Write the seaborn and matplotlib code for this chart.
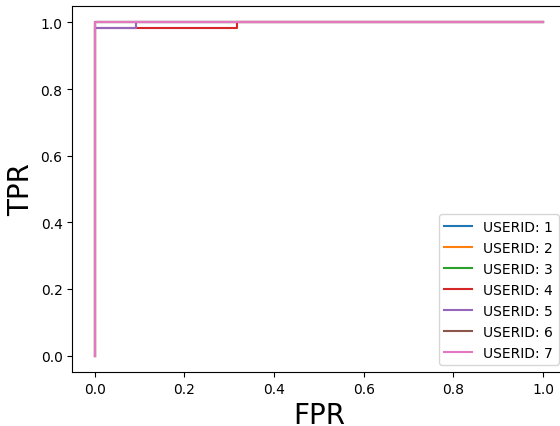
import matplotlib
matplotlib.use("Agg")
import matplotlib.pyplot as plt
import seaborn as sns
import pandas as pd

user_ids = [1, 2, 3, 4, 5, 6, 7]

# ROC points (fpr, tpr) per user
fpr_points = {
    1: [0.0, 0.0, 1.0],
    2: [0.0, 0.0, 1.0],
    3: [0.0, 0.0, 1.0],
    4: [0.0, 0.0, 0.318, 0.318, 1.0],
    5: [0.0, 0.0, 0.092, 0.092, 1.0],
    6: [0.0, 0.0, 1.0],
    7: [0.0, 0.0, 1.0],
}
tpr_points = {
    1: [0.0, 1.0, 1.0],
    2: [0.0, 1.0, 1.0],
    3: [0.0, 1.0, 1.0],
    4: [0.0, 0.982, 0.982, 1.0, 1.0],
    5: [0.0, 0.982, 0.982, 1.0, 1.0],
    6: [0.0, 1.0, 1.0],
    7: [0.0, 1.0, 1.0],
}

plt.style.use("default")
plt.rcParams["font.family"] = ["DejaVu Sans"]

fig, ax = plt.subplots(figsize=(5.6, 4.27), dpi=100)
palette = sns.color_palette("tab10")

for i, uid in enumerate(user_ids):
    df = pd.DataFrame({"fpr": fpr_points[uid], "tpr": tpr_points[uid]})
    sns.lineplot(
        data=df, x="fpr", y="tpr", sort=False, estimator=None,
        color=palette[i], linewidth=1.5, label=f"USERID: {uid}", ax=ax,
    )

ax.set_xlabel("FPR", fontsize=20)
ax.set_ylabel("TPR", fontsize=20)
ax.set_xticks([0.0, 0.2, 0.4, 0.6, 0.8, 1.0])
ax.set_yticks([0.0, 0.2, 0.4, 0.6, 0.8, 1.0])
ax.legend(loc="lower right", fontsize=10)

# the right spine falls just past the image edge, as in the reference
fig.subplots_adjust(left=0.129, right=1.01, top=0.984, bottom=0.126)
plt.savefig("out.png", dpi=100)
